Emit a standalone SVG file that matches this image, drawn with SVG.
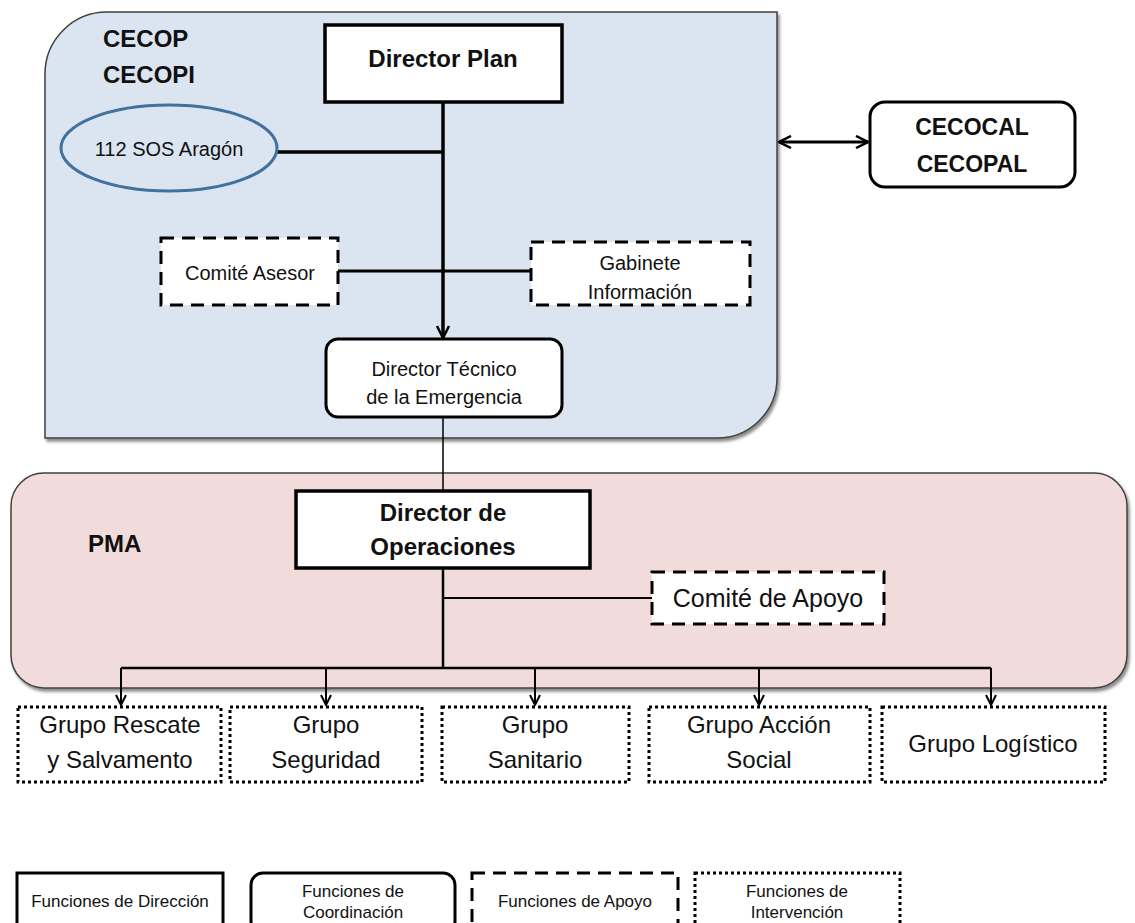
<svg xmlns="http://www.w3.org/2000/svg" width="1135" height="923" viewBox="0 0 1135 923">
<defs>
<style>
text{font-family:"Liberation Sans",Arial,sans-serif;fill:#111;text-anchor:middle}
.b{font-weight:bold}
.solid{fill:#fff;stroke:#000;stroke-width:3.5}
.coord{fill:#fff;stroke:#000;stroke-width:3}
.dash{fill:#fff;stroke:#000;stroke-width:3;stroke-dasharray:13 8}
.dot{fill:#fff;stroke:#000;stroke-width:3;stroke-dasharray:3 3}
.ln{fill:none;stroke:#000}
</style>
<filter id="sh" x="-5%" y="-5%" width="110%" height="115%">
<feDropShadow dx="2" dy="3" stdDeviation="1.5" flood-color="#000" flood-opacity="0.45"/>
</filter>
<marker id="ar" viewBox="0 0 12 12" refX="11" refY="6" markerWidth="12" markerHeight="12" markerUnits="userSpaceOnUse" orient="auto-start-reverse">
<path d="M1,1 L11,6 L1,11" fill="none" stroke="#000" stroke-width="2"/>
</marker>
<marker id="arB" viewBox="0 0 14 14" refX="13" refY="7" markerWidth="14" markerHeight="14" markerUnits="userSpaceOnUse" orient="auto-start-reverse">
<path d="M1,1 L13,7 L1,13" fill="none" stroke="#000" stroke-width="2.5"/>
</marker>
</defs>
<rect width="1135" height="923" fill="#fff"/>

<g id="cecop-container">
<path d="M45,74 A62,62 0 0 1 107,12 L777,12 L777,378 A60,60 0 0 1 717,438 L45,438 Z" fill="#dbe5f1" stroke="#404040" stroke-width="1.5" filter="url(#sh)"/>
<text class="b" x="103" y="47" font-size="24" style="text-anchor:start">CECOP</text>
<text class="b" x="103" y="83" font-size="24" style="text-anchor:start">CECOPI</text>
</g>

<g id="pma-container">
<rect x="11" y="473" width="1116" height="215" rx="33" fill="#f2dcdb" stroke="#404040" stroke-width="1.5" filter="url(#sh)"/>
<text class="b" x="88" y="552" font-size="24" style="text-anchor:start">PMA</text>
</g>

<g id="connectors">
<line class="ln" x1="443" y1="102" x2="443" y2="338" stroke-width="3.5" marker-end="url(#arB)"/>
<line class="ln" x1="277" y1="152" x2="443" y2="152" stroke-width="3.5"/>
<line class="ln" x1="338" y1="271" x2="531" y2="271" stroke-width="3"/>
<line class="ln" x1="443" y1="417" x2="443" y2="491" stroke-width="1.5"/>
<line class="ln" x1="443" y1="568" x2="443" y2="668" stroke-width="2.5"/>
<line class="ln" x1="443" y1="598" x2="652" y2="598" stroke-width="2"/>
<line class="ln" x1="121" y1="668" x2="991" y2="668" stroke-width="2.5"/>
<line class="ln" x1="121" y1="668" x2="121" y2="705" stroke-width="2" marker-end="url(#ar)"/>
<line class="ln" x1="326" y1="668" x2="326" y2="705" stroke-width="2" marker-end="url(#ar)"/>
<line class="ln" x1="535" y1="668" x2="535" y2="705" stroke-width="2" marker-end="url(#ar)"/>
<line class="ln" x1="759" y1="668" x2="759" y2="705" stroke-width="2" marker-end="url(#ar)"/>
<line class="ln" x1="991" y1="668" x2="991" y2="705" stroke-width="2" marker-end="url(#ar)"/>
<line class="ln" x1="779" y1="142" x2="868" y2="142" stroke-width="3" marker-start="url(#arB)" marker-end="url(#arB)"/>
</g>

<g id="director-plan">
<rect class="solid" x="325" y="25" width="237" height="77"/>
<text class="b" x="443" y="67" font-size="24">Director Plan</text>
</g>

<g id="sos-aragon">
<ellipse cx="169" cy="148" rx="108" ry="43" fill="#dbe5f1" stroke="#41719c" stroke-width="3"/>
<text x="169" y="156" font-size="20">112 SOS Aragón</text>
</g>

<g id="cecocal">
<rect class="coord" x="870" y="102" width="205" height="85" rx="15"/>
<text class="b" x="972" y="135" font-size="23">CECOCAL</text>
<text class="b" x="972" y="172" font-size="23">CECOPAL</text>
</g>

<g id="comite-asesor">
<rect class="dash" x="161" y="238" width="177" height="67"/>
<text x="250" y="280" font-size="20">Comité Asesor</text>
</g>

<g id="gabinete">
<rect class="dash" x="531" y="242" width="219" height="63"/>
<text x="640" y="270" font-size="20">Gabinete</text>
<text x="640" y="299" font-size="20">Información</text>
</g>

<g id="director-tecnico">
<rect class="coord" x="326" y="339" width="236" height="78" rx="12"/>
<text x="444" y="376" font-size="20">Director Técnico</text>
<text x="444" y="404" font-size="20">de la Emergencia</text>
</g>

<g id="director-operaciones">
<rect class="solid" x="296" y="491" width="294" height="77"/>
<text class="b" x="443" y="521" font-size="24">Director de</text>
<text class="b" x="443" y="555" font-size="24">Operaciones</text>
</g>

<g id="comite-apoyo">
<rect class="dash" x="652" y="572" width="232" height="52"/>
<text x="768" y="607" font-size="25">Comité de Apoyo</text>
</g>

<g id="grupo-rescate">
<rect class="dot" x="18" y="707" width="203" height="75"/>
<text x="120" y="733" font-size="24">Grupo Rescate</text>
<text x="120" y="768" font-size="24">y Salvamento</text>
</g>
<g id="grupo-seguridad">
<rect class="dot" x="230" y="707" width="192" height="75"/>
<text x="326" y="733" font-size="24">Grupo</text>
<text x="326" y="768" font-size="24">Seguridad</text>
</g>
<g id="grupo-sanitario">
<rect class="dot" x="442" y="707" width="187" height="75"/>
<text x="535" y="733" font-size="24">Grupo</text>
<text x="535" y="768" font-size="24">Sanitario</text>
</g>
<g id="grupo-accion-social">
<rect class="dot" x="649" y="707" width="221" height="75"/>
<text x="759" y="733" font-size="24">Grupo Acción</text>
<text x="759" y="768" font-size="24">Social</text>
</g>
<g id="grupo-logistico">
<rect class="dot" x="882" y="707" width="223" height="75"/>
<text x="993" y="752" font-size="24">Grupo Logístico</text>
</g>

<g id="legend-direccion">
<rect class="solid" x="17" y="873" width="206" height="60" style="stroke-width:3"/>
<text x="120" y="907" font-size="17">Funciones de Dirección</text>
</g>
<g id="legend-coordinacion">
<rect class="coord" x="251" y="873" width="204" height="60" rx="12"/>
<text x="353" y="897" font-size="17">Funciones de</text>
<text x="353" y="918" font-size="17">Coordinación</text>
</g>
<g id="legend-apoyo">
<rect class="dash" x="472" y="873" width="206" height="60"/>
<text x="575" y="907" font-size="17">Funciones de Apoyo</text>
</g>
<g id="legend-intervencion">
<rect class="dot" x="695" y="873" width="205" height="60"/>
<text x="797" y="897" font-size="17">Funciones de</text>
<text x="797" y="918" font-size="17">Intervención</text>
</g>
</svg>
